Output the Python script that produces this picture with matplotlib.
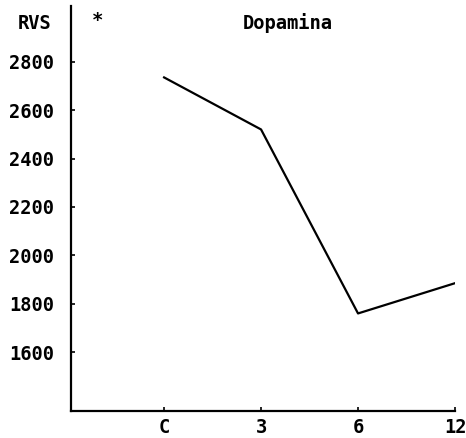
import matplotlib
matplotlib.use("Agg")
import matplotlib.pyplot as plt

categories = ["C", "3", "6", "12"]
rvs = [2735, 2520, 1760, 1885]
yticks = [1600, 1800, 2000, 2200, 2400, 2600, 2800]

font = dict(family="DejaVu Sans Mono", weight="bold", size=13.5)

fig = plt.figure(figsize=(4.66, 4.38), dpi=100)
ax = fig.add_axes([71/466, 27/438, (455-71)/466, (411-6)/438])
x = list(range(len(categories)))
ax.plot(x, rvs, color="black", lw=1.6)
ax.set_xlim(-0.96, 3.0)
ax.set_ylim(1357, 3030)
ax.set_xticks(x)
ax.set_xticklabels(categories, **font)
ax.set_yticks(yticks)
ax.set_yticklabels([str(v) for v in yticks], **font)
for s in ["top", "right"]:
    ax.spines[s].set_visible(False)
for s in ["left", "bottom"]:
    ax.spines[s].set_linewidth(1.6)
ax.tick_params(direction="in", length=3, width=1.2)
ax.tick_params(axis="x", pad=5)
ax.tick_params(axis="y", pad=12)
ax.text(-0.05, 0.958, "RVS", transform=ax.transAxes, ha="right", va="center", **font)
ax.text(0.07, 0.965, "*", transform=ax.transAxes, ha="center", va="center", **font)
ax.text(0.565, 0.958, "Dopamina", transform=ax.transAxes, ha="center", va="center", **font)
fig.savefig("out.png", dpi=100)
